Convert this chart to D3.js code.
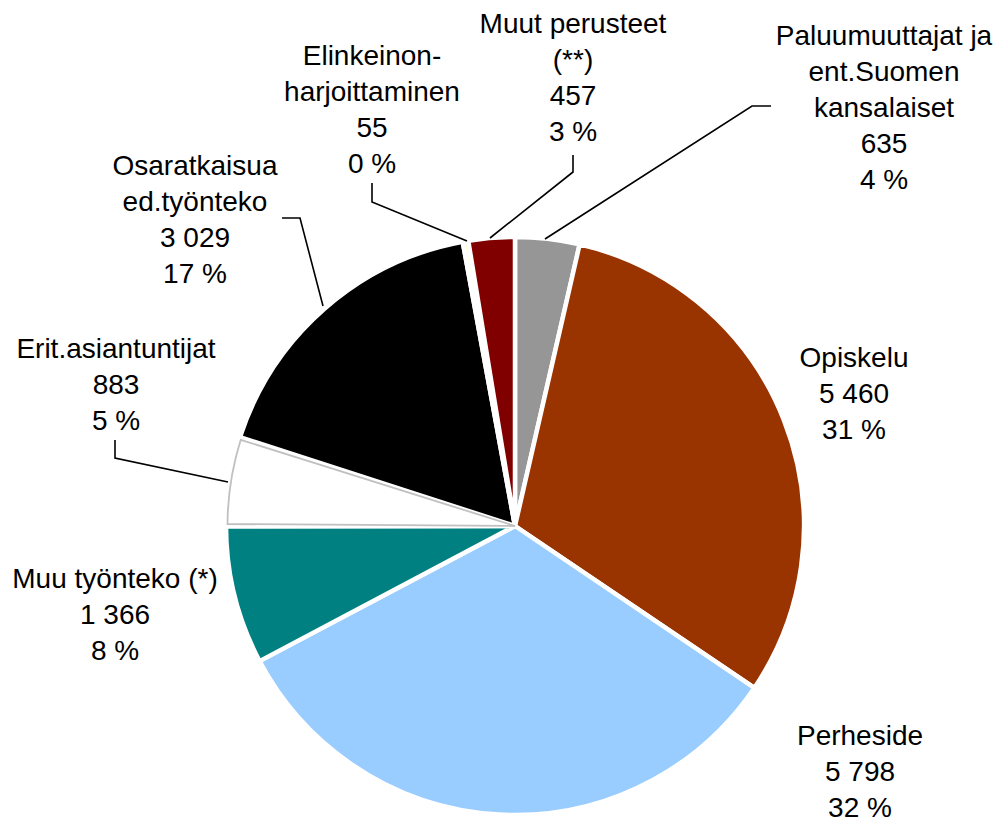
<!DOCTYPE html>
<html>
<head>
<meta charset="utf-8">
<script src="https://cdn.jsdelivr.net/npm/d3@7"></script>
<style>
html,body{margin:0;padding:0;background:#fff;}
svg{display:block;}
text{font-family:"Liberation Sans",Arial,sans-serif;font-size:28px;fill:#000;}
</style>
</head>
<body>
<svg id="chart" width="1000" height="825"></svg>
<script>
// Data (clockwise from 12 o'clock)
const categories = ["Paluumuuttajat ja ent.Suomen kansalaiset", "Opiskelu", "Perheside", "Muu työnteko (*)", "Erit.asiantuntijat", "Osaratkaisua ed.työnteko", "Elinkeinon-harjoittaminen", "Muut perusteet (**)"];
const values = [635, 5460, 5798, 1366, 883, 3029, 55, 457];
const valueLabels = ["635", "5 460", "5 798", "1 366", "883", "3 029", "55", "457"];
const percentLabels = ["4 %", "31 %", "32 %", "8 %", "5 %", "17 %", "0 %", "3 %"];
const nameLines = [
  ["Paluumuuttajat ja", "ent.Suomen", "kansalaiset"],
  ["Opiskelu"],
  ["Perheside"],
  ["Muu työnteko (*)"],
  ["Erit.asiantuntijat"],
  ["Osaratkaisua", "ed.työnteko"],
  ["Elinkeinon-", "harjoittaminen"],
  ["Muut perusteet", "(**)"]
];
const colors = ["#969696", "#993300", "#99CCFF", "#008080", "#FFFFFF", "#000000", "#FFFFCC", "#800000"];

// Layout
const cx = 515, cy = 526, R = 289;
const labelPos = [ // centre x, first baseline
  [884, 45], [854, 367], [860, 745], [115, 588], [116, 358], [195, 175], [372, 65], [573, 33]
];
const leaders = [
  [[771,106],[752,106]],
  null, null, null,
  [[115,440],[115,458]],
  [[282,218],[300,218]],
  [[372,183],[372,202]],
  [[573,155],[573,172]]
];
const leaderTargets = [[545,239], null, null, null, [228,482], [323,306], [467,241], [490,238]];

const svg = d3.select("#chart");
const g = svg.append("g").attr("transform", `translate(${cx},${cy})`);

const pie = d3.pie().sort(null).value(d => d)(values);
const arc = d3.arc().innerRadius(0).outerRadius(R);

g.selectAll("path.slice").data(pie).enter().append("path")
  .attr("class", "slice")
  .attr("d", arc)
  .attr("fill", (d, i) => colors[i])
  .attr("stroke", "#fff")
  .attr("stroke-width", 4.5)
  .attr("stroke-linejoin", "round");

// white slice outline
const iw = 4;
g.append("path")
  .attr("d", d3.arc().innerRadius(0).outerRadius(R - 1.5)({startAngle: pie[iw].startAngle + 0.008, endAngle: pie[iw].endAngle - 0.008}))
  .attr("fill", "#fff")
  .attr("stroke", "#c0c0c0")
  .attr("stroke-width", 1.8);

// leader lines
leaders.forEach((pts, i) => {
  if (!pts) return;
  const all = pts.concat([leaderTargets[i]]);
  svg.append("path")
    .attr("d", d3.line()(all))
    .attr("fill", "none")
    .attr("stroke", "#000")
    .attr("stroke-width", 1.6);
});

// labels
const lh = 36;
categories.forEach((c, i) => {
  const lines = nameLines[i].concat([valueLabels[i], percentLabels[i]]);
  const t = svg.append("text")
    .attr("x", labelPos[i][0])
    .attr("y", labelPos[i][1])
    .attr("text-anchor", "middle");
  lines.forEach((l, k) => {
    t.append("tspan").attr("x", labelPos[i][0]).attr("dy", k === 0 ? 0 : lh).text(l);
  });
});
</script>
</body>
</html>
